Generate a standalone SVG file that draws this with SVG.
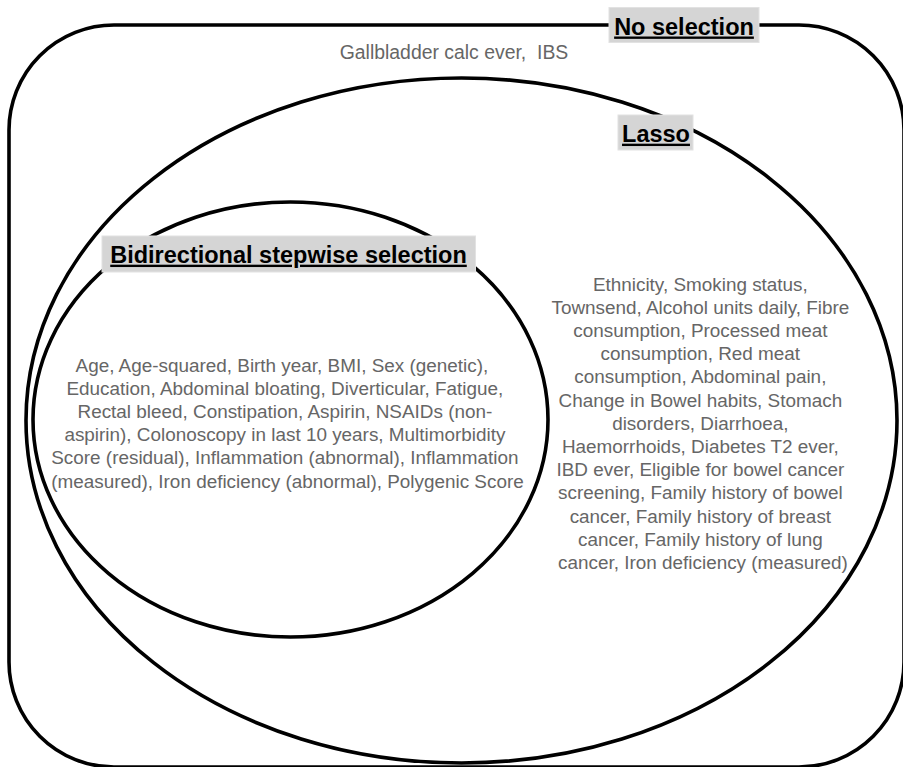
<svg xmlns="http://www.w3.org/2000/svg" width="903" height="767" viewBox="0 0 903 767">
<style>
.shape{fill:none;stroke:#000;stroke-width:3.6}
.body{font-family:"Liberation Sans",Arial,Helvetica,sans-serif;font-size:18.9px;fill:#666;text-anchor:middle}
.lbox{fill:#d5d5d5;stroke:#e2e2e2;stroke-width:1}
.ltext{font-family:"Liberation Sans",Arial,Helvetica,sans-serif;font-size:23.5px;font-weight:bold;fill:#000;text-anchor:middle;text-decoration:underline}
</style>
<rect width="903" height="767" fill="#fff"/>
<g id="no-selection">
  <rect class="shape" x="9" y="25" width="895" height="742" rx="105" ry="105"/>
  <text class="body" x="454" y="58.5" style="font-size:19.4px" xml:space="preserve">Gallbladder calc ever,  IBS</text>
</g>
<g id="lasso">
  <ellipse class="shape" cx="461.5" cy="420.5" rx="435.5" ry="342.5"/>
  <text class="body">
    <tspan x="703" y="290.5">Ethnicity, Smoking status,</tspan>
    <tspan x="703" y="313.7">Townsend, Alcohol units daily, Fibre</tspan>
    <tspan x="703" y="336.9">consumption, Processed meat</tspan>
    <tspan x="703" y="360.1">consumption, Red meat</tspan>
    <tspan x="703" y="383.3">consumption, Abdominal pain,</tspan>
    <tspan x="703" y="406.5">Change in Bowel habits, Stomach</tspan>
    <tspan x="703" y="429.7">disorders, Diarrhoea,</tspan>
    <tspan x="703" y="452.9">Haemorrhoids, Diabetes T2 ever,</tspan>
    <tspan x="703" y="476.1">IBD ever, Eligible for bowel cancer</tspan>
    <tspan x="703" y="499.3">screening, Family history of bowel</tspan>
    <tspan x="703" y="522.5">cancer, Family history of breast</tspan>
    <tspan x="703" y="545.7">cancer, Family history of lung</tspan>
    <tspan x="703" y="568.9">cancer, Iron deficiency (measured)</tspan>
  </text>
</g>
<g id="bidirectional">
  <ellipse class="shape" cx="290.5" cy="419.5" rx="257.5" ry="217.5"/>
  <text class="body">
    <tspan x="284.5" y="372">Age, Age-squared, Birth year, BMI, Sex (genetic),</tspan>
    <tspan x="287.5" y="395.1">Education, Abdominal bloating, Diverticular, Fatigue,</tspan>
    <tspan x="287.5" y="418.2">Rectal bleed, Constipation, Aspirin, NSAIDs (non-</tspan>
    <tspan x="287.5" y="441.3">aspirin), Colonoscopy in last 10 years, Multimorbidity</tspan>
    <tspan x="287.5" y="464.4">Score (residual), Inflammation (abnormal), Inflammation</tspan>
    <tspan x="287.5" y="487.5">(measured), Iron deficiency (abnormal), Polygenic Score</tspan>
  </text>
</g>
<g id="labels">
  <g id="label-no-selection">
    <rect class="lbox" x="609" y="7.5" width="150" height="35"/>
    <text class="ltext" x="684" y="34.5">No selection</text>
  </g>
  <g id="label-lasso">
    <rect class="lbox" x="618" y="115" width="75" height="35"/>
    <text class="ltext" x="656" y="141.7">Lasso</text>
  </g>
  <g id="label-bidirectional">
    <rect class="lbox" x="102" y="236" width="373.5" height="36"/>
    <text class="ltext" x="288.5" y="262.7">Bidirectional stepwise selection</text>
  </g>
</g>
<g id="connectors"/>
</svg>
